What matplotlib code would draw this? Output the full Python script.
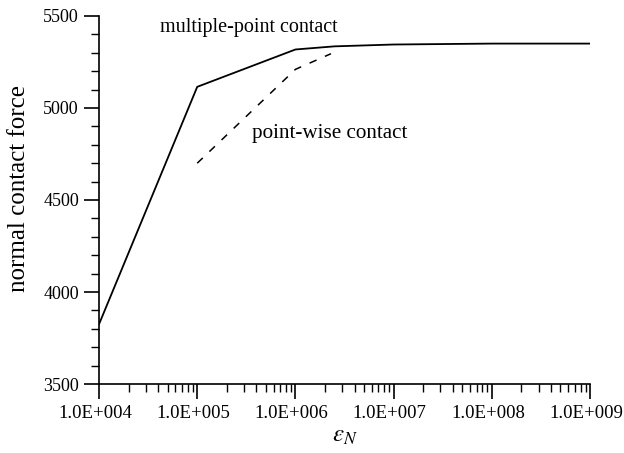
import numpy as np
import matplotlib.pyplot as plt
import matplotlib.transforms as mtransforms
from matplotlib.ticker import LogLocator, MultipleLocator, FixedLocator

# values
eps_multi = [1e4, 1e5, 1e6, 2.5e6, 1e7, 1e8, 1e9]
force_multi = [3825, 5115, 5318, 5335, 5345, 5350, 5350]
eps_point = [1e5, 1e6, 2.3e6]
force_point = [4700, 5210, 5295]
xtick_vals = [1e4, 1e5, 1e6, 1e7, 1e8, 1e9]
xtick_labels = ['1.0E+004', '1.0E+005', '1.0E+006', '1.0E+007', '1.0E+008', '1.0E+009']
ytick_vals = [3500, 4000, 4500, 5000, 5500]

plt.rcParams['font.family'] = ['Liberation Serif', 'DejaVu Serif']
plt.rcParams['mathtext.fontset'] = 'stix'

fig = plt.figure(figsize=(6.24, 4.53), dpi=100)
ax = fig.add_axes([0.1587, 0.1523, 0.7869, 0.8124])

ax.plot(eps_multi, force_multi, color='black', lw=1.3)
ax.plot(eps_point, force_point, color='black', lw=1.1, dashes=(5, 6))

ax.set_xscale('log')
ax.set_xlim(1e4, 1e9)
ax.set_ylim(3500, 5500)

ax.xaxis.set_major_locator(FixedLocator(xtick_vals))
ax.set_xticks(xtick_vals)
ax.set_xticklabels(xtick_labels)
ax.xaxis.set_minor_locator(LogLocator(base=10, subs=np.arange(2, 10)))
ax.xaxis.set_minor_formatter(plt.NullFormatter())
ax.set_yticks(ytick_vals)
ax.yaxis.set_minor_locator(MultipleLocator(100))

ax.tick_params(which='major', direction='out', length=11, width=1.2, labelsize=13, colors='black')
ax.tick_params(axis='x', which='major', labelsize=13.5, pad=4)
ax.tick_params(which='minor', direction='out', length=6, width=1.0)

# labels in the reference sit a few pixels left of their ticks
shift = mtransforms.ScaledTranslation(-4 / 100, 0, fig.dpi_scale_trans)
for lab in ax.get_xticklabels():
    lab.set_transform(lab.get_transform() + shift)

for s in ['top', 'right']:
    ax.spines[s].set_visible(False)
for s in ['left', 'bottom']:
    ax.spines[s].set_linewidth(1.2)

ax.set_ylabel('normal contact force', fontsize=18)
ax.yaxis.set_label_coords(-0.14, 0.53)
ax.set_xlabel(r'$\varepsilon_N$', fontsize=18, labelpad=2)

ax.text(4.18e4, 5435, 'multiple-point contact', fontsize=14.5, va='center')
ax.text(3.6e5, 4862, 'point-wise contact', fontsize=15.2, va='center')

fig.savefig('out.png', dpi=100)
